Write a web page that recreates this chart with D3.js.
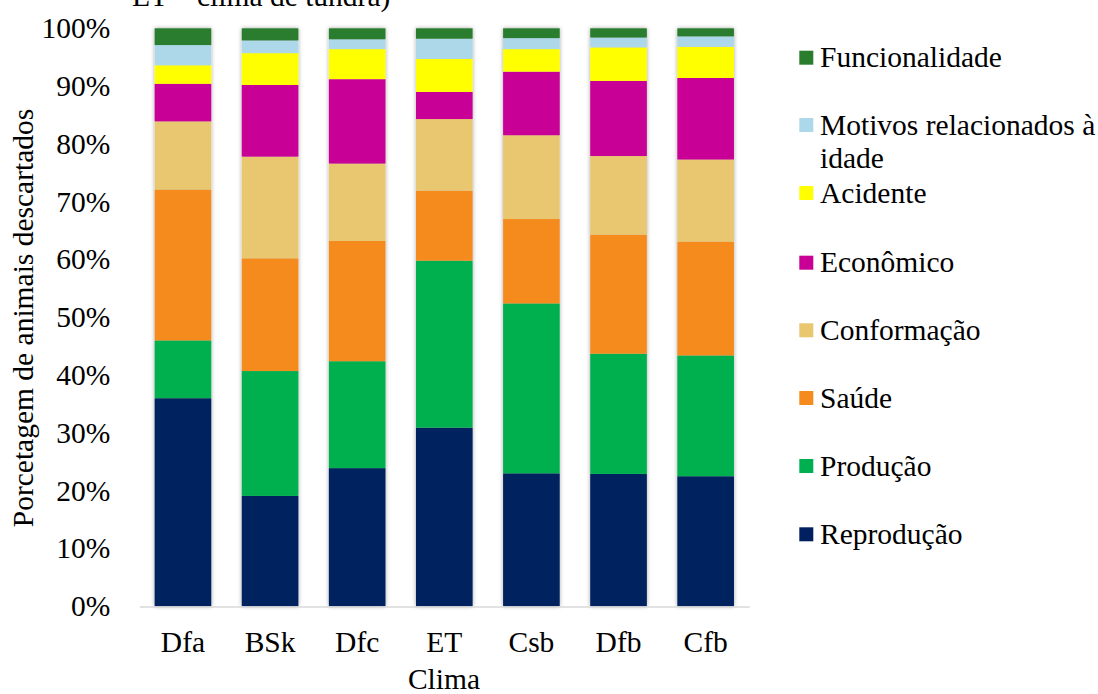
<!DOCTYPE html>
<html>
<head>
<meta charset="utf-8">
<script src="https://cdn.jsdelivr.net/npm/d3@7"></script>
<style>
  html, body { margin: 0; padding: 0; background: #fff; }
  svg { display: block; }
  svg text { font-family: 'Liberation Serif', Tinos, 'Times New Roman', Times, serif; fill: #000; }
</style>
</head>
<body>
<svg id="chart" width="1098" height="694"></svg>
<script>
const categories = ["Dfa", "BSk", "Dfc", "ET", "Csb", "Dfb", "Cfb"];
const reproducao     = [36.0, 19.1, 23.9, 30.9, 23.0, 22.9, 22.5];
const producao       = [10.0, 21.6, 18.5, 28.9, 29.4, 20.8, 20.9];
const saude          = [26.1, 19.5, 20.8, 12.1, 14.6, 20.6, 19.7];
const conformacao    = [11.8, 17.6, 13.4, 12.4, 14.5, 13.6, 14.2];
const economico      = [6.5, 12.4, 14.6, 4.7, 11.0, 13.0, 14.1];
const acidente       = [3.2, 5.5, 5.2, 5.7, 3.9, 5.8, 5.4];
const motivosIdade   = [3.5, 2.2, 1.7, 3.5, 1.9, 1.7, 1.8];
const funcionalidade = [2.9, 2.1, 1.9, 1.8, 1.7, 1.6, 1.4];

const seriesNames = ["Reprodução", "Produção", "Saúde", "Conformação", "Econômico", "Acidente", "Motivos relacionados à idade", "Funcionalidade"];
const seriesValues = [reproducao, producao, saude, conformacao, economico, acidente, motivosIdade, funcionalidade];
const seriesColors = ["#00205f", "#00b050", "#f58b1f", "#e9c76f", "#c80096", "#ffff00", "#add8ea", "#2b7d2e"];
const yTicks = [0, 10, 20, 30, 40, 50, 60, 70, 80, 90, 100];

const FONT = "'Liberation Serif', Tinos, 'Times New Roman', Times, serif";
const FS = 29.5;
const svg = d3.select("#chart");

const defs = svg.append("defs");
const f = defs.append("filter").attr("id", "shadow").attr("x", "-20%").attr("y", "-5%").attr("width", "140%").attr("height", "110%");
f.append("feDropShadow").attr("dx", 0).attr("dy", 0).attr("stdDeviation", 2.2).attr("flood-color", "#000").attr("flood-opacity", 0.35);

const x = d3.scaleBand().domain(categories).range([139.4, 749.2]).paddingInner(0.35).paddingOuter(0.175);
const y = d3.scaleLinear().domain([0, 100]).range([606.3, 28.3]);

const rows = categories.map((c, i) => {
  const r = { cat: c };
  seriesNames.forEach((s, j) => { r[s] = seriesValues[j][i]; });
  return r;
});
const stacked = d3.stack().keys(seriesNames)(rows);

const barGroups = svg.append("g").selectAll("g.bar")
  .data(categories).join("g")
  .attr("class", "bar")
  .attr("filter", "url(#shadow)");

barGroups.each(function(cat, i) {
  const g = d3.select(this);
  stacked.forEach((layer, j) => {
    const d = layer[i];
    g.append("rect")
      .attr("x", x(cat))
      .attr("width", x.bandwidth())
      .attr("y", y(d[1]))
      .attr("height", y(d[0]) - y(d[1]))
      .attr("fill", seriesColors[j]);
  });
});

const xAxis = svg.append("g")
  .attr("transform", "translate(0,606.5)")
  .call(d3.axisBottom(x).tickSize(0).tickSizeOuter(0).tickPadding(25));
xAxis.attr("font-family", FONT).attr("font-size", FS);
xAxis.select(".domain").attr("stroke", "#d9d9d9").attr("stroke-width", 1.5);
xAxis.selectAll("text").attr("fill", "#000");

const yAxis = svg.append("g")
  .attr("transform", "translate(139.4,0)")
  .call(d3.axisLeft(y).tickValues(yTicks).tickFormat(d => d + "%").tickSize(0).tickPadding(29));
yAxis.attr("font-family", FONT).attr("font-size", FS);
yAxis.select(".domain").remove();
yAxis.selectAll("text").attr("fill", "#000");

svg.append("text")
  .attr("transform", "translate(33,318) rotate(-90)")
  .attr("text-anchor", "middle")
  .attr("font-size", FS)
  .text("Porcetagem de animais descartados");

svg.append("text")
  .attr("x", 444)
  .attr("y", 689)
  .attr("text-anchor", "middle")
  .attr("font-size", FS)
  .text("Clima");

svg.append("text")
  .attr("x", 132)
  .attr("y", 6)
  .attr("font-size", FS)
  .text("ET – clima de tundra)");

const legendCenters = [57.7, 125, 193, 262.7, 330.3, 398, 466, 534.3];
const legendOrder = seriesNames.map((s, j) => j).reverse();
const legend = svg.append("g");
legendOrder.forEach((j, k) => {
  const cy = legendCenters[k];
  legend.append("rect")
    .attr("x", 799.3).attr("y", cy - 7).attr("width", 14).attr("height", 14)
    .attr("fill", seriesColors[j]);
  const t = legend.append("text").attr("x", 820).attr("y", cy + 9.5).attr("font-size", FS);
  if (seriesNames[j] === "Motivos relacionados à idade") {
    t.append("tspan").attr("x", 820).text("Motivos relacionados à");
    t.append("tspan").attr("x", 820).attr("dy", 33.5).text("idade");
  } else {
    t.text(seriesNames[j]);
  }
});
</script>
</body>
</html>
